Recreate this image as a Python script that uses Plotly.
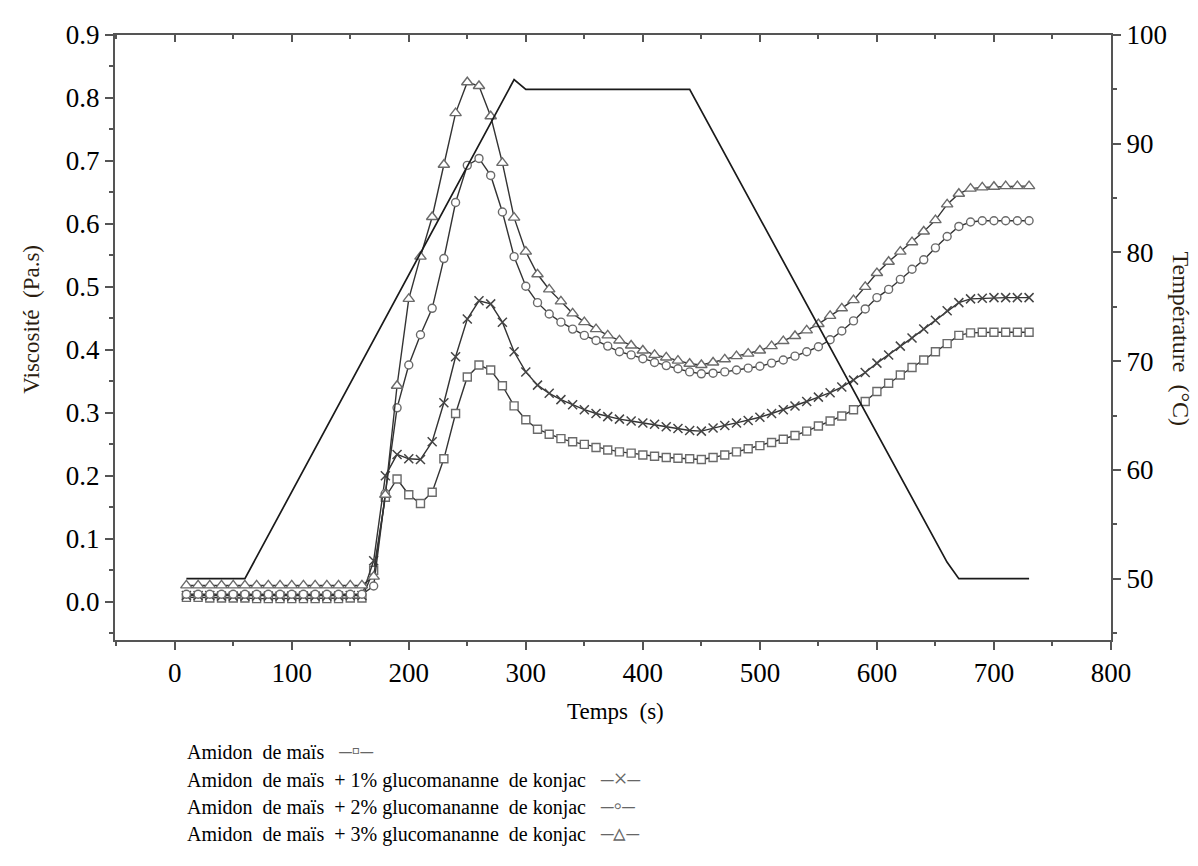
import plotly.graph_objects as go

time_s = [10, 20, 30, 40, 50, 60, 70, 80, 90, 100, 110, 120, 130, 140, 150, 160,
          170, 180, 190, 200, 210, 220, 230, 240, 250, 260, 270, 280, 290, 300,
          310, 320, 330, 340, 350, 360, 370, 380, 390, 400, 410, 420, 430, 440, 450,
          460, 470, 480, 490, 500, 510, 520, 530, 540, 550, 560, 570, 580, 590, 600,
          610, 620, 630, 640, 650, 660, 670, 680, 690, 700, 710, 720, 730]

amidon = [0.007, 0.007, 0.006, 0.006, 0.006, 0.006, 0.005, 0.005, 0.005, 0.005, 0.005, 0.005, 0.005, 0.005, 0.006, 0.006,
          0.050, 0.166, 0.195, 0.170, 0.156, 0.174, 0.227, 0.299, 0.357, 0.376, 0.368, 0.343, 0.311, 0.289,
          0.274, 0.266, 0.259, 0.254, 0.250, 0.245, 0.241, 0.238, 0.236, 0.233, 0.231, 0.229, 0.228, 0.227, 0.226,
          0.229, 0.233, 0.238, 0.243, 0.248, 0.253, 0.258, 0.264, 0.271, 0.279, 0.287, 0.295, 0.305, 0.318, 0.334,
          0.347, 0.360, 0.372, 0.384, 0.397, 0.410, 0.423, 0.427, 0.428, 0.428, 0.428, 0.428, 0.428]

konjac1 = [0.010, 0.010, 0.010, 0.009, 0.009, 0.009, 0.009, 0.009, 0.009, 0.009, 0.009, 0.009, 0.009, 0.009, 0.010, 0.010,
           0.065, 0.200, 0.234, 0.227, 0.226, 0.254, 0.316, 0.389, 0.449, 0.478, 0.473, 0.444, 0.397, 0.365,
           0.344, 0.331, 0.321, 0.313, 0.305, 0.299, 0.294, 0.290, 0.287, 0.284, 0.282, 0.278, 0.275, 0.272, 0.271,
           0.276, 0.280, 0.284, 0.288, 0.293, 0.299, 0.305, 0.311, 0.318, 0.325, 0.332, 0.341, 0.352, 0.364, 0.379,
           0.392, 0.406, 0.419, 0.433, 0.447, 0.462, 0.475, 0.481, 0.482, 0.483, 0.483, 0.483, 0.483]

konjac2 = [0.012, 0.012, 0.012, 0.012, 0.012, 0.012, 0.012, 0.012, 0.012, 0.012, 0.012, 0.012, 0.012, 0.012, 0.012, 0.012,
           0.025, 0.172, 0.308, 0.376, 0.424, 0.466, 0.545, 0.634, 0.693, 0.704, 0.677, 0.619, 0.548, 0.501,
           0.475, 0.457, 0.444, 0.433, 0.423, 0.415, 0.406, 0.397, 0.392, 0.386, 0.380, 0.375, 0.370, 0.365, 0.362,
           0.363, 0.365, 0.368, 0.371, 0.374, 0.379, 0.384, 0.390, 0.397, 0.405, 0.416, 0.430, 0.446, 0.465, 0.483,
           0.496, 0.512, 0.528, 0.543, 0.562, 0.580, 0.596, 0.603, 0.605, 0.605, 0.605, 0.605, 0.605]

konjac3 = [0.026, 0.026, 0.026, 0.026, 0.026, 0.026, 0.026, 0.026, 0.026, 0.026, 0.026, 0.026, 0.026, 0.026, 0.026, 0.026,
           0.040, 0.170, 0.343, 0.481, 0.548, 0.611, 0.694, 0.776, 0.825, 0.819, 0.771, 0.697, 0.610, 0.556,
           0.520, 0.496, 0.477, 0.458, 0.444, 0.433, 0.423, 0.415, 0.407, 0.399, 0.392, 0.388, 0.383, 0.378, 0.376,
           0.380, 0.385, 0.390, 0.394, 0.399, 0.406, 0.414, 0.422, 0.431, 0.441, 0.454, 0.466, 0.479, 0.500, 0.522,
           0.540, 0.556, 0.571, 0.588, 0.606, 0.631, 0.648, 0.656, 0.658, 0.659, 0.660, 0.660, 0.660]

temp_time = [10, 60, 290, 300, 440, 660, 670, 730]
temperature = [50, 50, 95.9, 95, 95, 51.5, 50, 50]

series_names = ["Amidon  de maïs",
                "Amidon  de maïs  + 1% glucomananne  de konjac",
                "Amidon  de maïs  + 2% glucomananne  de konjac",
                "Amidon  de maïs  + 3% glucomananne  de konjac"]
legend_symbols = ["–▫–", "–×–", "–◦–", "–▵–"]

FONT = "Liberation Serif, Times New Roman, serif"
LINE_C = "#333333"
MARK_C = "#6a6a6a"
AX_C = "#555555"
TITLE_C = "#2b1d10"

# page has an 8px body margin; figure sized to fit the window
W, H = 1190, 858
PL, PR, PT, PB = 107, 1103, 20, 632   # plot area in figure pixels
pw, ph = PR - PL, PB - PT
X_RANGE = [-51, 800]


def px_x(img_x):
    return (img_x - 8 - PL) / pw


def px_y(img_y):
    return (PB - (img_y - 8)) / ph


fig = go.Figure()

specs = [(amidon, "square", 8), (konjac1, "x-thin", 9), (konjac2, "circle", 8), (konjac3, "triangle-up", 10)]
for (vals, sym, sz), name in zip(specs, series_names):
    marker = dict(symbol=sym, size=sz, color="white", line=dict(color=MARK_C, width=1.4))
    if sym == "x-thin":
        marker = dict(symbol=sym, size=sz, color=MARK_C, line=dict(color="#444", width=1.5))
    fig.add_trace(go.Scatter(x=time_s, y=vals, mode="lines+markers", name=name,
                             line=dict(color=LINE_C, width=1.4), marker=marker,
                             showlegend=False))

fig.add_trace(go.Scatter(x=temp_time, y=temperature, mode="lines", yaxis="y2",
                         line=dict(color="#1a1a1a", width=1.7), showlegend=False,
                         name="Température"))
# invisible carrier so the top frame axis (inward ticks) is drawn
fig.add_trace(go.Scatter(x=X_RANGE, y=[None, None], xaxis="x2", mode="lines",
                         showlegend=False, hoverinfo="skip"))

axis_common = dict(showline=True, linecolor=AX_C, linewidth=2, ticks="outside",
                   tickcolor=AX_C, tickwidth=1.5, ticklen=8, showgrid=False, zeroline=False,
                   tickfont=dict(family=FONT, size=27, color="black"))

fig.update_layout(
    width=W, height=H,
    margin=dict(l=PL, r=W - PR, t=PT, b=H - PB),
    paper_bgcolor="white", plot_bgcolor="white",
    font=dict(family=FONT, color="black"),
    xaxis=dict(range=X_RANGE, dtick=100, tick0=0,
               minor=dict(dtick=50, ticks="outside", ticklen=4, tickcolor=AX_C),
               **axis_common),
    xaxis2=dict(range=X_RANGE, dtick=100, tick0=0, overlaying="x", side="top", anchor="y",
                showline=True, linecolor=AX_C, linewidth=2, ticks="inside", ticklen=7,
                tickwidth=1.5, tickcolor=AX_C, showticklabels=False, showgrid=False, zeroline=False,
                minor=dict(dtick=50, ticks="inside", ticklen=4, tickcolor=AX_C)),
    yaxis=dict(range=[-0.0607, 0.9], dtick=0.1, tick0=0, tickformat=".1f",
               minor=dict(dtick=0.05, ticks="outside", ticklen=4, tickcolor=AX_C),
               **axis_common),
    yaxis2=dict(range=[44.36, 100], dtick=10, tick0=50, overlaying="y", side="right",
                minor=dict(dtick=5, ticks="outside", ticklen=4, tickcolor=AX_C),
                **axis_common),
)

# axis titles
fig.add_annotation(text="Temps&nbsp; (s)", xref="paper", yref="paper",
                   x=px_x(615), y=px_y(712), showarrow=False, xanchor="center", yanchor="middle",
                   font=dict(family=FONT, size=23, color="black"))
fig.add_annotation(text="Viscosité&nbsp; (Pa.s)", textangle=-90, xref="paper", yref="paper",
                   x=px_x(32), y=px_y(316), showarrow=False, xanchor="center", yanchor="middle",
                   font=dict(family=FONT, size=23, color=TITLE_C))
fig.add_annotation(text="Température&nbsp; (°C)", textangle=90, xref="paper", yref="paper",
                   x=px_x(1181), y=px_y(335), showarrow=False, xanchor="center", yanchor="middle",
                   font=dict(family=FONT, size=24, color=TITLE_C))

# legend as text lines below the plot
legend_y = [752, 780, 807, 835]
for name, sym, py in zip(series_names, legend_symbols, legend_y):
    txt = (name.replace("  ", "&nbsp; ") + "&nbsp;&nbsp; <span style='color:#666;font-size:25px'>"
           + sym + "</span>")
    fig.add_annotation(text=txt, xref="paper", yref="paper",
                       x=px_x(185), y=px_y(py), showarrow=False,
                       xanchor="left", yanchor="middle",
                       font=dict(family=FONT, size=20, color="black"))

fig.write_html("out.html")
